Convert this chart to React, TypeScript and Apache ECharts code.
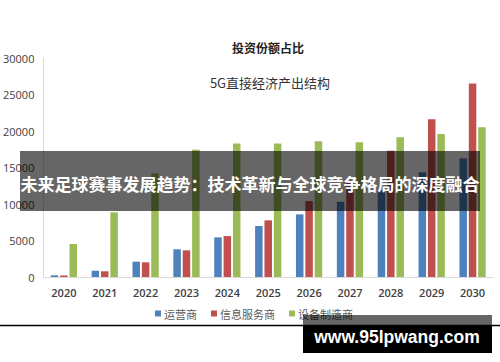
import React, { useEffect, useRef } from "react";
import * as echarts from "echarts";

const categories = ["2020", "2021", "2022", "2023", "2024", "2025", "2026", "2027", "2028", "2029", "2030"];
const seriesNames = ["运营商", "信息服务商", "设备制造商"];
const operators = [230, 860, 2100, 3790, 5430, 6990, 8580, 10300, 11800, 14350, 16250];
const infoServices = [200, 780, 2010, 3650, 5610, 7760, 10400, 13000, 17300, 21600, 26500];
const equipment = [4520, 8860, 14200, 17450, 18300, 18300, 18600, 18450, 19140, 19600, 20500];
const yTicks = [0, 5000, 10000, 15000, 20000, 25000, 30000];

const colors = ["#4F81BD", "#C0504D", "#9BBB59"];
const titleTop = "投资份额占比";
const titleMain = "5G直接经济产出结构";
const bannerText = "未来足球赛事发展趋势：技术革新与全球竞争格局的深度融合";
const watermark = "www.95lpwang.com";

export default function App() {
  const ref = useRef<HTMLDivElement>(null);
  useEffect(() => {
    document.body.style.margin = "0";
    if (!ref.current) return;
    const chart = echarts.init(ref.current, undefined, { renderer: "svg" });
    const data = [operators, infoServices, equipment];
    chart.setOption({
      animation: false,
      backgroundColor: "#ffffff",
      grid: { left: 42, right: 7, top: 58, bottom: 85, containLabel: false },
      legend: {
        bottom: 38,
        left: 150,
        itemWidth: 6,
        itemHeight: 6,
        itemGap: 14,
        icon: "rect",
        textStyle: { color: "#595959", fontSize: 11, fontFamily: "Noto Sans CJK SC", padding: [0, 0, 0, -2] },
        data: seriesNames,
      },
      xAxis: {
        type: "category",
        data: categories,
        axisLine: { lineStyle: { color: "#d9d9d9", width: 1 } },
        axisTick: { show: false },
        axisLabel: { color: "#404040", fontSize: 11, fontFamily: "Open Sans", fontWeight: 600, margin: 10 },
      },
      yAxis: {
        type: "value",
        min: yTicks[0],
        max: yTicks[yTicks.length - 1],
        interval: 5000,
        axisLine: { show: true, lineStyle: { color: "#d9d9d9", width: 1 } },
        axisTick: { show: false },
        splitLine: { show: false },
        axisLabel: {
          color: "#404040",
          fontSize: 11,
          fontFamily: "Open Sans",
          margin: 9,
          formatter: (v: number) => String(v),
        },
      },
      series: seriesNames.map((name, i) => ({
        name,
        type: "bar",
        data: data[i],
        barWidth: 7.5,
        barGap: "25%",
        itemStyle: { color: colors[i] },
      })),
      graphic: [
        {
          type: "text",
          style: {
            text: titleTop,
            x: 268,
            y: 47,
            align: "center",
            verticalAlign: "middle",
            fill: "#222",
            font: "bold 12px 'Noto Sans CJK SC'",
          },
        },
        {
          type: "text",
          style: {
            text: titleMain,
            x: 270,
            y: 82,
            align: "center",
            verticalAlign: "middle",
            fill: "#333",
            font: "13px 'Noto Sans CJK SC'",
          },
        },
        {
          type: "rect",
          shape: { x: 20, y: 151, width: 460, height: 60 },
          style: { fill: "rgba(0,0,0,0.6)" },
          z: 100,
        },
        {
          type: "text",
          z: 101,
          style: {
            text: bannerText,
            x: 250,
            y: 183,
            align: "center",
            verticalAlign: "middle",
            fill: "#ffffff",
            font: "bold 17px 'Noto Sans CJK SC'",
          },
        },
        {
          type: "line",
          z: 100,
          shape: { x1: 0, y1: 325.5, x2: 500, y2: 325.5 },
          style: { stroke: "#000", lineWidth: 1.5 },
        },
        {
          type: "rect",
          z: 102,
          shape: { x: 303, y: 315, width: 189, height: 10 },
          style: { fill: "rgba(0,0,0,0.6)" },
        },
        {
          type: "rect",
          z: 102,
          shape: { x: 303, y: 325, width: 189, height: 28 },
          style: { fill: "#000" },
        },
        {
          type: "text",
          z: 103,
          style: {
            text: watermark,
            x: 397,
            y: 337,
            align: "center",
            verticalAlign: "middle",
            fill: "#ffffff",
            font: "bold 17.5px 'Liberation Sans'",
          },
        },
      ],
    });
    return () => chart.dispose();
  }, []);
  return <div ref={ref} style={{ width: 500, height: 362 }} />;
}
